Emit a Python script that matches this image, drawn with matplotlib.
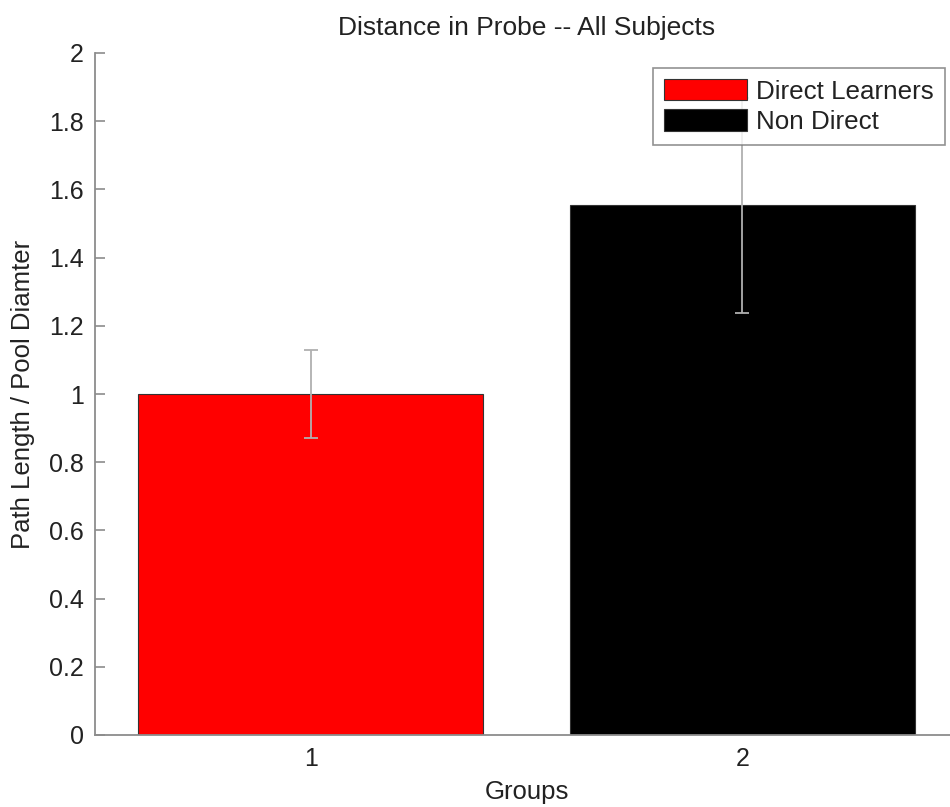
import matplotlib
matplotlib.use("Agg")
import matplotlib.pyplot as plt
import numpy as np

plt.rcParams['font.family'] = ['Liberation Sans', 'DejaVu Sans']

groups = [1, 2]
group_labels = ["1", "2"]
series_names = ["Direct Learners", "Non Direct"]
means = [1.0, 1.553]
errors = [0.13, 0.315]
colors = ["#ff0000", "#000000"]
yticks = [0, 0.2, 0.4, 0.6, 0.8, 1, 1.2, 1.4, 1.6, 1.8, 2]
ytick_labels = ["0", "0.2", "0.4", "0.6", "0.8", "1", "1.2", "1.4", "1.6", "1.8", "2"]

fig = plt.figure(figsize=(9.5, 8.07), dpi=100)
ax = fig.add_axes([95 / 950, 72 / 807, 863 / 950, 682 / 807])

spine_col = "#8c8c8c"
txt_col = "#222222"
for i in range(len(groups)):
    ax.bar(groups[i], means[i], width=0.8, color=colors[i], edgecolor="#333333",
           linewidth=0.8, label=series_names[i], zorder=2)
    ax.errorbar(groups[i], means[i], yerr=errors[i], fmt='none', ecolor="#b0b0b0",
                elinewidth=1.3, capsize=5, capthick=1.3, zorder=3)

ax.set_xlim(0.5, 2.5)
ax.set_ylim(0, 2)
ax.set_xticks(groups)
ax.set_xticklabels(group_labels)
ax.set_yticks(yticks)
ax.set_yticklabels(ytick_labels)

ax.spines['top'].set_visible(False)
ax.spines['right'].set_visible(False)
ax.spines['left'].set_color(spine_col)
ax.spines['bottom'].set_color(spine_col)
ax.spines['left'].set_linewidth(1.3)
ax.spines['bottom'].set_linewidth(1.3)
ax.tick_params(direction='in', length=7, width=1.2, color=spine_col,
               labelsize=18, labelcolor=txt_col)
ax.tick_params(axis='y', pad=8)
ax.tick_params(axis='x', pad=9)

ax.set_title("Distance in Probe -- All Subjects", fontsize=19, color=txt_col, pad=13)
ax.set_xlabel("Groups", fontsize=18.5, color=txt_col, labelpad=6)
ax.set_ylabel("Path Length / Pool Diamter", fontsize=18.5, color=txt_col, labelpad=10)

leg = ax.legend(loc='upper right', bbox_to_anchor=(0.985, 0.978), fontsize=18.7,
                frameon=True, fancybox=False, handlelength=3.2, handleheight=0.9,
                handletextpad=0.35, borderpad=0.42, labelspacing=0.22, borderaxespad=0)
leg.get_frame().set_edgecolor("#777777")
leg.get_frame().set_linewidth(1.2)
for t in leg.get_texts():
    t.set_color(txt_col)
leg.set_zorder(5)

fig.savefig("out.png", dpi=100)
